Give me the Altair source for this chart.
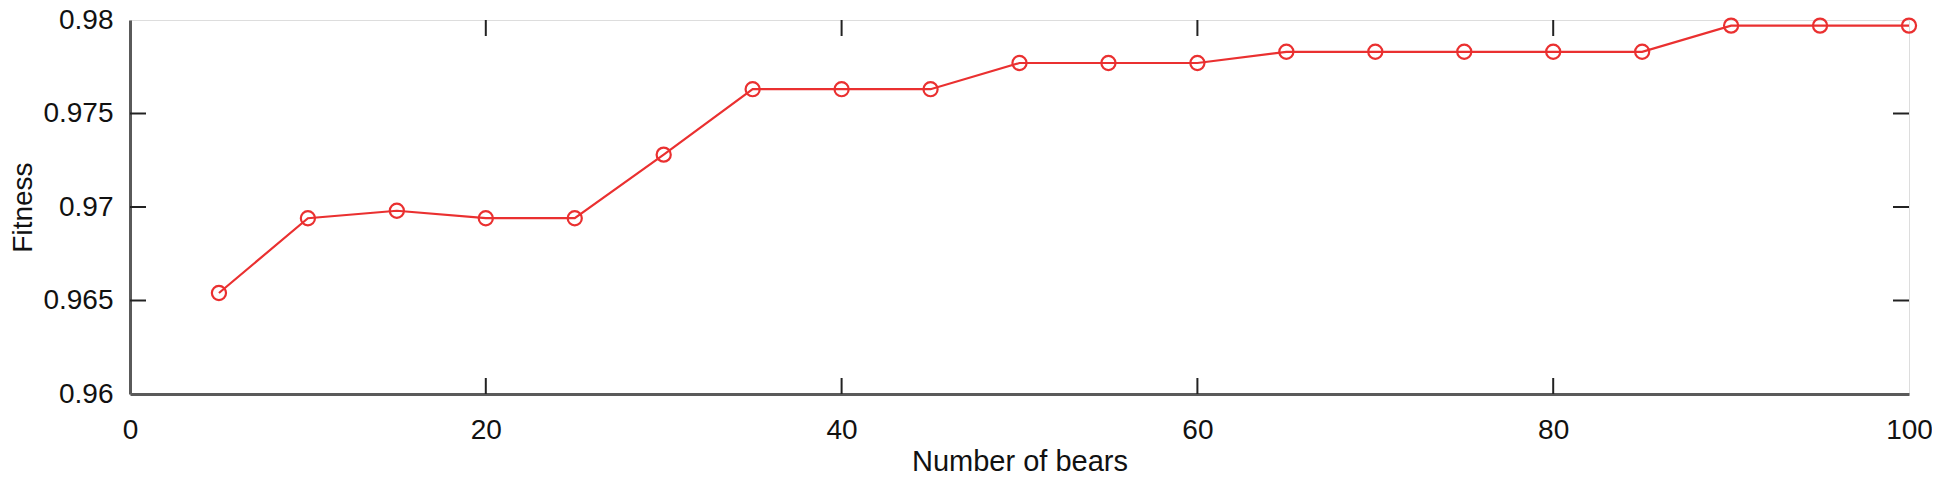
import altair as alt
import pandas as pd

# data
bears = [5, 10, 15, 20, 25, 30, 35, 40, 45, 50, 55, 60, 65, 70, 75, 80, 85, 90, 95, 100]
fitness = [0.9654, 0.9694, 0.9698, 0.9694, 0.9694, 0.9728, 0.9763, 0.9763, 0.9763,
           0.9777, 0.9777, 0.9777, 0.9783, 0.9783, 0.9783, 0.9783, 0.9783,
           0.9797, 0.9797, 0.9797]
x_ticks = [0, 20, 40, 60, 80, 100]
y_ticks = [0.96, 0.965, 0.97, 0.975, 0.98]
x_inner_ticks = [20, 40, 60, 80]
y_inner_ticks = [0.965, 0.97, 0.975]

W, H = 1779, 374
TICK = 16
RED = "#ea3030"
FONT = "Liberation Sans"

df = pd.DataFrame({"bears": bears, "fitness": fitness})
dx = pd.DataFrame({"v": x_inner_ticks})
dy = pd.DataFrame({"v": y_inner_ticks})

xscale = alt.Scale(domain=[0, 100], nice=False, zero=False)
yscale = alt.Scale(domain=[0.96, 0.98], nice=False, zero=False)

xaxis = alt.Axis(values=x_ticks, title="Number of bears", grid=False, ticks=False,
                 labelFlush=False, labelPadding=22, labelFontSize=28, titleFontSize=29,
                 titleFontWeight="normal", titlePadding=3, domainColor="#5a5a5a",
                 domainWidth=3, labelColor="#111", titleColor="#111", labelFont=FONT,
                 titleFont=FONT)
yaxis = alt.Axis(values=y_ticks, title="Fitness", grid=False, ticks=False, format=".3~f",
                 labelFlush=False, labelPadding=17, labelFontSize=28, titleFontSize=28,
                 titleFontWeight="normal", titlePadding=5, domainColor="#5a5a5a",
                 domainWidth=3, labelColor="#111", titleColor="#111", labelFont=FONT,
                 titleFont=FONT)

base = alt.Chart(df)
line = base.mark_line(color=RED, strokeWidth=2.2).encode(
    x=alt.X("bears:Q", scale=xscale, axis=xaxis),
    y=alt.Y("fitness:Q", scale=yscale, axis=yaxis),
)
pts = base.mark_point(shape="circle", size=200, filled=False, color=RED, strokeWidth=2.2,
                      opacity=1).encode(
    x=alt.X("bears:Q", scale=xscale),
    y=alt.Y("fitness:Q", scale=yscale),
)

tick_style = dict(color="#222", strokeWidth=2)
bottom_ticks = alt.Chart(dx).mark_rule(**tick_style).encode(
    x=alt.X("v:Q", scale=xscale), y=alt.value(H), y2=alt.value(H - TICK))
top_ticks = alt.Chart(dx).mark_rule(**tick_style).encode(
    x=alt.X("v:Q", scale=xscale), y=alt.value(0), y2=alt.value(TICK))
left_ticks = alt.Chart(dy).mark_rule(**tick_style).encode(
    y=alt.Y("v:Q", scale=yscale), x=alt.value(0), x2=alt.value(TICK))
right_ticks = alt.Chart(dy).mark_rule(**tick_style).encode(
    y=alt.Y("v:Q", scale=yscale), x=alt.value(W), x2=alt.value(W - TICK))

chart = alt.layer(bottom_ticks, top_ticks, left_ticks, right_ticks, line, pts).properties(
    width=W, height=H,
    autosize=alt.AutoSizeParams(type="none"),
    padding={"left": 122, "top": 12, "right": 23, "bottom": 82},
).configure_view(stroke="#222", strokeWidth=2).configure(background="white")

chart.save("out.html", embed_options={"renderer": "svg", "actions": False})
